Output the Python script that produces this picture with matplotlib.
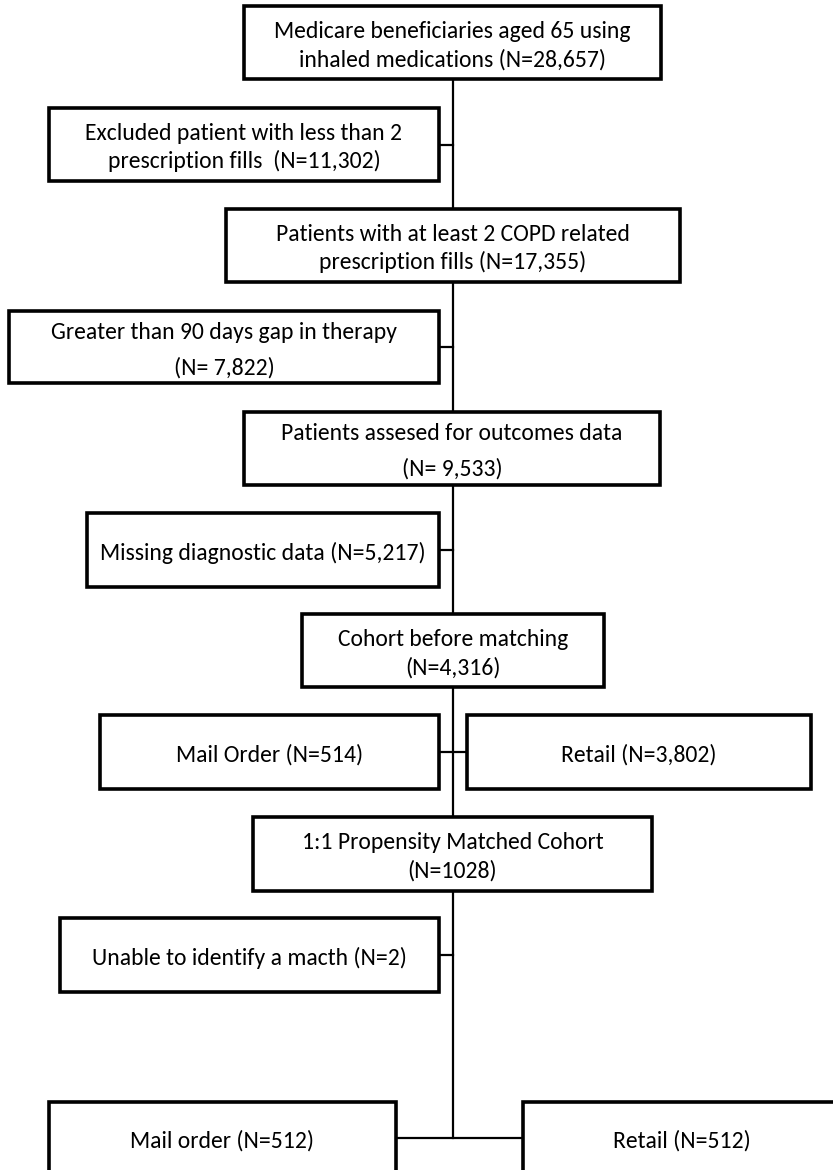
import matplotlib.pyplot as plt
from matplotlib.patches import Rectangle
from matplotlib import font_manager

# flowchart texts
main_labels = [
    "Medicare beneficiaries aged 65 using\ninhaled medications (N=28,657)",
    "Patients with at least 2 COPD related\nprescription fills (N=17,355)",
    "Patients assesed for outcomes data\n(N= 9,533)",
    "Cohort before matching\n(N=4,316)",
    "1:1 Propensity Matched Cohort\n(N=1028)",
]
excluded_labels = [
    "Excluded patient with less than 2\nprescription fills  (N=11,302)",
    "Greater than 90 days gap in therapy\n(N= 7,822)",
    "Missing diagnostic data (N=5,217)",
    "Unable to identify a macth (N=2)",
]
split_labels = ["Mail Order (N=514)", "Retail (N=3,802)"]
final_labels = ["Mail order (N=512)", "Retail (N=512)"]

# layout in pixels (x0, x1, y0, y1), y from top
main_boxes = [(244, 661, 6, 79), (226, 680, 209, 282), (244, 660, 412, 485),
              (302, 604, 614, 687), (253, 652, 817, 891)]
main_spacing = [1.38, 1.38, 1.80, 1.38, 1.38]
excl_boxes = [(49, 439, 108, 181), (9, 439, 311, 383), (87, 439, 513, 587),
              (60, 439, 918, 992)]
excl_spacing = [1.38, 1.80, 1.38, 1.38]
split_boxes = [(100, 439, 715, 789), (467, 811, 715, 789)]
final_boxes = [(49, 396, 1102, 1175), (523, 841, 1102, 1175)]

W, H = 833, 1170
cx = 453
fig = plt.figure(figsize=(W / 100, H / 100), dpi=100)
ax = fig.add_axes([0, 0, 1, 1])
ax.set_xlim(0, W)
ax.set_ylim(H, 0)
ax.axis("off")

# Carlito stands in for Calibri
names = {f.name for f in font_manager.fontManager.ttflist}
if "Carlito" in names:
    font, fs = ["Carlito", "DejaVu Sans"], 17
else:
    font, fs = ["DejaVu Sans"], 14


def box(b, text, ls=1.38, ty=None):
    x0, x1, y0, y1 = b
    ax.add_patch(Rectangle((x0, y0), x1 - x0, y1 - y0, facecolor="white",
                           edgecolor="black", linewidth=2.6, zorder=3))
    if ty is None:
        ty = (y0 + y1) / 2 + 3
    ax.text((x0 + x1) / 2, ty, text, ha="center", va="center",
            fontsize=fs, family=font, linespacing=ls, zorder=4)


# central spine
ax.plot([cx, cx], [79, 1138], color="black", lw=1.6, zorder=1)

for b, t, s in zip(main_boxes, main_labels, main_spacing):
    box(b, t, s)
for b, t, s in zip(excl_boxes, excluded_labels, excl_spacing):
    box(b, t, s)
    ym = (b[2] + b[3]) / 2
    ax.plot([b[1], cx], [ym, ym], color="black", lw=1.6, zorder=1)

for b, t in zip(split_boxes, split_labels):
    box(b, t)
ax.plot([split_boxes[0][1], split_boxes[1][0]], [752, 752], color="black", lw=1.6, zorder=1)

for b, t in zip(final_boxes, final_labels):
    box(b, t, ty=1141)
ax.plot([final_boxes[0][1], final_boxes[1][0]], [1138, 1138], color="black", lw=1.6, zorder=1)

fig.savefig("out.png", dpi=100)
